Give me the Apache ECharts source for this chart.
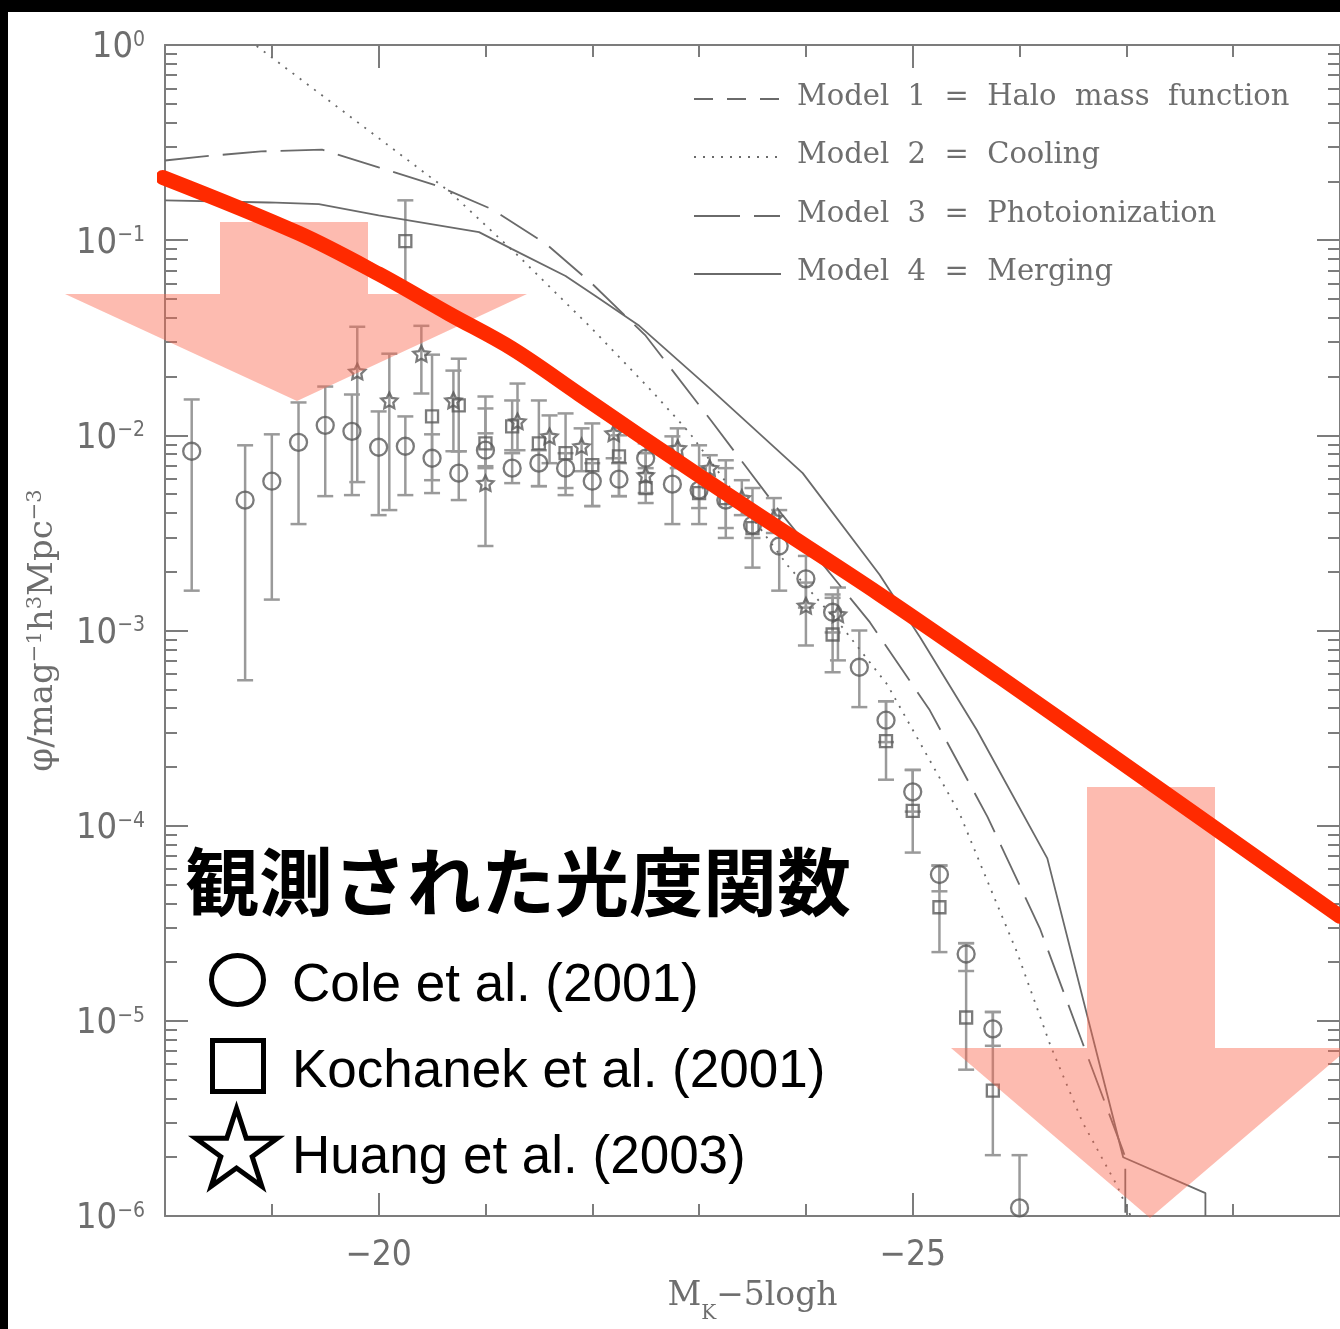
<!DOCTYPE html>
<html>
<head>
<meta charset="utf-8">
<script src="https://cdn.jsdelivr.net/npm/echarts@6/dist/echarts.min.js"></script>
<style>
  html, body { margin: 0; padding: 0; background: #fff; }
  #chart { width: 1340px; height: 1329px; }
</style>
</head>
<body>
<div id="chart"></div>
<script>
// K-band galaxy luminosity function: observed points vs. semi-analytic models

// Axis ticks
const magMajorTicks = [-20, -25];
const decadeExponents = [-6, -5, -4, -3, -2, -1, 0];
const minorLogTicks = [];
for (let n = -6; n < 0; n++) {
  for (let k = 2; k <= 9; k++) minorLogTicks.push(n + Math.log10(k));
}

// Observations: [M_K - 5logh, phi, phi_low, phi_high]
const cole2001 = [
  [-18.25, 0.00829, 0.0016, 0.01527],
  [-18.75, 0.00466, 0.000556, 0.00889],
  [-19.0, 0.00582, 0.00144, 0.01012],
  [-19.25, 0.00921, 0.00351, 0.01474],
  [-19.5, 0.01125, 0.00488, 0.01778],
  [-19.75, 0.01048, 0.00494, 0.01619],
  [-20.0, 0.00869, 0.0039, 0.01326],
  [-20.25, 0.00879, 0.00494, 0.0125],
  [-20.5, 0.00763, 0.00589, 0.01012],
  [-20.75, 0.0064, 0.00466, 0.00829],
  [-21.0, 0.00839, 0.00695, 0.01024],
  [-21.25, 0.00679, 0.00569, 0.0081],
  [-21.5, 0.0072, 0.00549, 0.00839],
  [-21.75, 0.00679, 0.00537, 0.0081],
  [-22.0, 0.00582, 0.00434, 0.0072],
  [-22.25, 0.00596, 0.00488, 0.0072],
  [-22.5, 0.00763, 0.0064, 0.0091],
  [-22.75, 0.00562, 0.00351, 0.00988],
  [-23.0, 0.00524, 0.00424, 0.00679],
  [-23.25, 0.00466, 0.00298, 0.00745],
  [-23.5, 0.00347, 0.00298, 0.004],
  [-23.75, 0.00271, 0.0016, 0.00414],
  [-24.0, 0.00184, 0.00131, 0.00241],
  [-24.25, 0.00124, 0.000977, 0.00153],
  [-24.5, 0.000648, 0.000405, 0.001],
  [-24.75, 0.000347, 0.000268, 0.000434],
  [-25.0, 0.000149, 0.000118, 0.000193],
  [-25.25, 5.62e-5, 4.61e-5, 6.25e-5],
  [-25.5, 2.2e-5, 1.8e-5, 2.5e-5],
  [-25.75, 9.1e-6, 7.45e-6, 1.11e-5],
  [-26.0, 1.1e-6, 1e-6, 2.05e-6]
];
const kochanek2001 = [
  [-20.25, 0.0988, 0.0562, 0.16],
  [-20.5, 0.0125, 0.00506, 0.0259],
  [-20.75, 0.01423, 0.00829, 0.0247],
  [-21.0, 0.0091, 0.00679, 0.01373],
  [-21.25, 0.01111, 0.00839, 0.01509],
  [-21.5, 0.0091, 0.00549, 0.01509],
  [-21.75, 0.0081, 0.00494, 0.01295],
  [-22.0, 0.00703, 0.00434, 0.01151],
  [-22.25, 0.00781, 0.00488, 0.01],
  [-22.5, 0.00537, 0.0045, 0.00679],
  [-23.0, 0.00506, 0.00351, 0.00889],
  [-23.25, 0.00477, 0.00335, 0.00679],
  [-23.5, 0.00335, 0.0021, 0.00537],
  [-24.25, 0.000954, 0.000611, 0.00147],
  [-24.75, 0.000271, 0.000172, 0.000434],
  [-25.0, 0.000119, 7.28e-5, 0.000193],
  [-25.25, 3.82e-5, 2.25e-5, 6.25e-5],
  [-25.5, 1.04e-5, 5.62e-6, 2.5e-5],
  [-25.75, 4.39e-6, 2.05e-6, 1.11e-5]
];
const huang2003 = [
  [-19.8, 0.0212, 0.00576, 0.036],
  [-20.1, 0.01509, 0.00414, 0.0262],
  [-20.4, 0.0262, 0.01638, 0.0364],
  [-20.7, 0.01509, 0.00829, 0.02146],
  [-21.0, 0.00569, 0.00271, 0.01581],
  [-21.3, 0.01179, 0.00839, 0.01842],
  [-21.6, 0.00988, 0.0072, 0.01265],
  [-21.9, 0.00879, 0.00655, 0.01086],
  [-22.2, 0.01024, 0.00763, 0.01221],
  [-22.5, 0.00625, 0.00506, 0.0081],
  [-22.8, 0.00859, 0.00679, 0.01086],
  [-23.1, 0.00679, 0.00537, 0.00791],
  [-23.4, 0.00477, 0.0039, 0.00589],
  [-23.7, 0.00377, 0.00316, 0.00477],
  [-24.0, 0.00134, 0.000838, 0.00176],
  [-24.3, 0.00121, 0.000703, 0.00166]
];

// Model predictions: [M_K - 5logh, phi]
const model2Cooling = [
  [-18.0, 2.33], [-18.87, 0.977], [-20.66, 0.178], [-21.31, 0.0828], [-22.0, 0.0351],
  [-22.56, 0.0168], [-22.91, 0.0103], [-23.83, 0.00215], [-24.34, 0.00104], [-24.76, 0.00053],
  [-25.09, 0.000253], [-25.44, 0.000115], [-25.72, 4.88e-5], [-25.98, 2.22e-5], [-26.29, 7.45e-6],
  [-26.59, 3.02e-6], [-26.91, 1.44e-6], [-27.04, 1e-6]
];
const model3Photoionization = [
  [-18.0, 0.256], [-18.34, 0.268], [-18.9, 0.285], [-19.47, 0.291], [-20.0, 0.236],
  [-20.56, 0.189], [-21.06, 0.144], [-21.57, 0.0954], [-22.0, 0.0597], [-22.5, 0.0324],
  [-23.11, 0.01194], [-23.78, 0.00391], [-24.6, 0.0011], [-25.16, 0.00039], [-25.7, 0.000111],
  [-26.19, 2.98e-5], [-26.59, 7.7e-6], [-26.96, 2.22e-6], [-26.99, 2.0e-6], [-26.99, 1e-6]
];
const model4Merging = [
  [-18.0, 0.16], [-18.97, 0.156], [-19.44, 0.153], [-20.0, 0.134], [-20.94, 0.11],
  [-21.25, 0.09], [-21.75, 0.0655], [-22.03, 0.0518], [-22.44, 0.0364], [-23.1, 0.0174],
  [-23.97, 0.0064], [-24.69, 0.00193], [-25.07, 0.00092], [-25.6, 0.000309], [-26.26, 6.8e-5],
  [-26.97, 2.0e-6], [-27.74, 1.31e-6], [-27.74, 1e-6]
];

// Hand-drawn trend line across the bright end
const trendLine = [
  [-17.98, 0.2096], [-19.25, 0.1086], [-20.0, 0.0671], [-20.66, 0.0419], [-21.25, 0.0278],
  [-21.88, 0.0162], [-22.44, 0.01], [-23.5, 0.00409], [-24.69, 0.00153], [-25.82, 0.000575],
  [-26.75, 0.000253], [-29.0, 3.43e-5]
];

// Legend texts
const modelLegend = [
  { label: 'Model  1  =  Halo  mass  function', dash: [19, 14] },
  { label: 'Model  2  =  Cooling', dash: [2, 7] },
  { label: 'Model  3  =  Photoionization', dash: [46, 14, 26, 14] },
  { label: 'Model  4  =  Merging', dash: null }
];
const obsLegend = ['Cole et al. (2001)', 'Kochanek et al. (2001)', 'Huang et al. (2003)'];
const headline = '観測された光度関数';

const GRAY_TEXT = '#6e6e6e';
const GRAY_AXIS = '#7c7c7c';
const GRAY_LINE = '#6a6a6a';
const NUM_FONT = "'Liberation Sans Narrow', 'DejaVu Sans Condensed', 'Liberation Sans', sans-serif";
const SERIF = "'DejaVu Serif', 'Liberation Serif', serif";

const chart = echarts.init(document.getElementById('chart'), null, { renderer: 'canvas' });

function errorBars(params, api) {
  const x = api.value(0);
  const lo = api.coord([x, api.value(2)]);
  const hi = api.coord([x, api.value(3)]);
  const w = 8;
  const style = { stroke: '#9a9a9a', lineWidth: 2.5 };
  return {
    type: 'group',
    children: [
      { type: 'line', shape: { x1: lo[0], y1: lo[1], x2: hi[0], y2: hi[1] }, style },
      { type: 'line', shape: { x1: lo[0] - w, y1: lo[1], x2: lo[0] + w, y2: lo[1] }, style },
      { type: 'line', shape: { x1: hi[0] - w, y1: hi[1], x2: hi[0] + w, y2: hi[1] }, style }
    ]
  };
}

function starPoints(cx, cy, R, r) {
  const pts = [];
  for (let i = 0; i < 10; i++) {
    const a = -Math.PI / 2 + i * Math.PI / 5;
    const rad = i % 2 === 0 ? R : r;
    pts.push([cx + rad * Math.cos(a), cy + rad * Math.sin(a)]);
  }
  return pts;
}
const STAR_PATH = 'path://M0,-10L2.94,-4.05L9.51,-3.09L4.76,1.55L5.88,8.09L0,5L-5.88,8.09L-4.76,1.55L-9.51,-3.09L-2.94,-4.05Z';

const supLabel = v => '{b|10}{s|' + (v === 0 ? '0' : '\u2212' + (-v)) + '}';

const xAxes = [
  // bottom, one tick per magnitude, carries axis line and name
  {
    type: 'value', position: 'bottom', inverse: true, min: -29, max: -18, interval: 1,
    axisLine: { show: true, onZero: false, lineStyle: { color: GRAY_AXIS, width: 2 } },
    axisTick: { show: true, inside: true, length: 12, lineStyle: { color: GRAY_AXIS, width: 2 } },
    axisLabel: { show: false },
    splitLine: { show: false },
    name: '{t|M}{k|K}{t|\u22125logh}',
    nameLocation: 'middle',
    nameGap: 64,
    nameTextStyle: {
      rich: {
        t: { fontFamily: SERIF, fontSize: 33, color: GRAY_TEXT, lineHeight: 34, verticalAlign: 'top' },
        k: { fontFamily: SERIF, fontSize: 20, color: GRAY_TEXT, lineHeight: 44, verticalAlign: 'bottom' }
      }
    }
  },
  // bottom, labelled major ticks
  {
    type: 'value', position: 'bottom', inverse: true, min: -29, max: -18,
    axisLine: { show: false, onZero: false },
    axisTick: { show: true, inside: true, length: 23, customValues: magMajorTicks, lineStyle: { color: GRAY_AXIS, width: 2 } },
    axisLabel: {
      show: true, customValues: magMajorTicks, margin: 22,
      formatter: v => '\u2212' + Math.abs(v),
      fontFamily: NUM_FONT, fontSize: 35, color: GRAY_TEXT
    },
    splitLine: { show: false }
  },
  // top frame
  {
    type: 'value', position: 'top', inverse: true, min: -29, max: -18, interval: 1,
    axisLine: { show: true, onZero: false, lineStyle: { color: GRAY_AXIS, width: 2 } },
    axisTick: { show: true, inside: true, length: 12, lineStyle: { color: GRAY_AXIS, width: 2 } },
    axisLabel: { show: false },
    splitLine: { show: false }
  },
  {
    type: 'value', position: 'top', inverse: true, min: -29, max: -18,
    axisLine: { show: false, onZero: false },
    axisTick: { show: true, inside: true, length: 23, customValues: magMajorTicks, lineStyle: { color: GRAY_AXIS, width: 2 } },
    axisLabel: { show: false },
    splitLine: { show: false }
  }
];

function tickAxis(position, major, withLabels) {
  return {
    type: 'value', position, min: -6, max: 0,
    interval: major ? 1 : undefined,
    axisLine: { show: false, onZero: false },
    axisTick: major
      ? { show: true, inside: true, length: 23, customValues: decadeExponents, lineStyle: { color: GRAY_AXIS, width: 2 } }
      : { show: true, inside: true, length: 12, customValues: minorLogTicks, lineStyle: { color: GRAY_AXIS, width: 2 } },
    axisLabel: withLabels ? {
      show: true, margin: 20, formatter: supLabel, customValues: decadeExponents,
      padding: [6, 0, 0, 0],
      rich: {
        b: { fontFamily: NUM_FONT, fontSize: 36, color: GRAY_TEXT, lineHeight: 36 },
        s: { fontFamily: NUM_FONT, fontSize: 21, color: GRAY_TEXT, lineHeight: 21, verticalAlign: 'top' }
      }
    } : { show: false },
    splitLine: { show: false }
  };
}

const yAxes = [
  {
    type: 'log', logBase: 10, min: 1e-6, max: 1, position: 'left',
    axisLine: { show: true, onZero: false, lineStyle: { color: GRAY_AXIS, width: 2 } },
    axisTick: { show: false }, axisLabel: { show: false }, splitLine: { show: false }, minorTick: { show: false },
    name: '{t|\u03c6/mag}{s|\u22121}{t|h}{s|3}{t|Mpc}{s|\u22123}',
    nameLocation: 'middle',
    nameGap: 104,
    nameTextStyle: {
      rich: {
        t: { fontFamily: SERIF, fontSize: 34, color: GRAY_TEXT, lineHeight: 36 },
        s: { fontFamily: SERIF, fontSize: 21, color: GRAY_TEXT, lineHeight: 21, verticalAlign: 'top' }
      }
    }
  },
  tickAxis('left', true, true),
  tickAxis('left', false, false),
  {
    type: 'log', logBase: 10, min: 1e-6, max: 1, position: 'right',
    axisLine: { show: true, onZero: false, lineStyle: { color: GRAY_AXIS, width: 2 } },
    axisTick: { show: false }, axisLabel: { show: false }, splitLine: { show: false }, minorTick: { show: false }
  },
  tickAxis('right', true, false),
  tickAxis('right', false, false)
];

function modelSeries(name, data, dash) {
  return {
    name, type: 'line', data, xAxisIndex: 0, yAxisIndex: 0,
    showSymbol: false, symbol: 'none', z: 2,
    lineStyle: { color: GRAY_LINE, width: 1.8, type: dash || 'solid' },
    emphasis: { disabled: true }
  };
}

function barSeries(name, data) {
  return {
    name: name + ' errors', type: 'custom', data, xAxisIndex: 0, yAxisIndex: 0,
    renderItem: errorBars, encode: { x: 0, y: [1, 2, 3] }, z: 1, clip: true
  };
}

function markerSeries(name, data, symbol, size) {
  return {
    name, type: 'scatter', data: data.map(d => [d[0], d[1]]), xAxisIndex: 0, yAxisIndex: 0,
    symbol, symbolSize: size, symbolKeepAspect: true, z: 2,
    itemStyle: { color: 'rgba(0,0,0,0)', borderColor: '#5a5a5a', borderWidth: 2.3 },
    emphasis: { disabled: true }
  };
}

// Annotation layer: arrows, headline and marker key
const PINK = 'rgba(250,105,80,0.45)';
const graphics = [
  { type: 'polygon', z: 3, silent: true,
    shape: { points: [[220, 222], [368, 222], [368, 294], [527, 294], [297, 401], [65, 294], [220, 294]] },
    style: { fill: PINK } },
  { type: 'polygon', z: 3, silent: true,
    shape: { points: [[1087, 787], [1215, 787], [1215, 1048], [1349, 1048], [1150, 1218], [951, 1048], [1087, 1048]] },
    style: { fill: PINK } },
  { type: 'text', z: 10, x: 185, y: 882,
    style: { text: headline, fill: '#000', font: "bold 74px 'Noto Sans CJK JP', sans-serif", verticalAlign: 'middle', align: 'left' } },
  { type: 'ellipse', z: 10, shape: { cx: 237.5, cy: 980, rx: 26, ry: 24.5 },
    style: { fill: 'none', stroke: '#000', lineWidth: 5 } },
  { type: 'rect', z: 10, shape: { x: 212.5, y: 1040.5, width: 51, height: 51 },
    style: { fill: 'none', stroke: '#000', lineWidth: 5 } },
  { type: 'polygon', z: 10, shape: { points: starPoints(236.5, 1151.5, 43, 16.5) },
    style: { fill: 'none', stroke: '#000', lineWidth: 5, lineJoin: 'miter' } },
  // page frame
  { type: 'rect', z: 20, shape: { x: 0, y: 0, width: 1340, height: 12 }, style: { fill: '#000' } },
  { type: 'rect', z: 20, shape: { x: 0, y: 0, width: 8, height: 1329 }, style: { fill: '#000' } }
];
const obsY = [986, 1072, 1158];
obsLegend.forEach((t, i) => {
  graphics.push({ type: 'text', z: 10, x: 292, y: obsY[i],
    style: { text: t, fill: '#000', font: "53px 'Liberation Sans', 'Helvetica', sans-serif", verticalAlign: 'middle', align: 'left' } });
});
const modelY = [97, 155, 214, 272];
modelLegend.forEach((m, i) => {
  graphics.push({ type: 'line', z: 4, shape: { x1: 694, y1: modelY[i] + 2, x2: 781, y2: modelY[i] + 2 },
    style: { stroke: GRAY_LINE, lineWidth: 2, lineDash: m.dash || null } });
  graphics.push({ type: 'text', z: 4, x: 797, y: modelY[i],
    style: { text: m.label, fill: GRAY_TEXT, font: "29px 'DejaVu Serif', serif", verticalAlign: 'middle', align: 'left' } });
});

chart.setOption({
  animation: false,
  backgroundColor: '#fff',
  grid: { left: 165, right: 0, top: 45, bottom: 108, containLabel: false },
  xAxis: xAxes,
  yAxis: yAxes,
  series: [
    modelSeries('Model 2 = Cooling', model2Cooling, [2, 7]),
    modelSeries('Model 3 = Photoionization', model3Photoionization, [44, 14]),
    modelSeries('Model 4 = Merging', model4Merging, null),
    barSeries('Cole et al. (2001)', cole2001),
    barSeries('Kochanek et al. (2001)', kochanek2001),
    barSeries('Huang et al. (2003)', huang2003),
    markerSeries('Cole et al. (2001)', cole2001, 'circle', 17),
    markerSeries('Kochanek et al. (2001)', kochanek2001, 'rect', 12),
    markerSeries('Huang et al. (2003)', huang2003, STAR_PATH, 16),
    {
      name: 'trend', type: 'line', data: trendLine, xAxisIndex: 0, yAxisIndex: 0,
      smooth: 0.35, showSymbol: false, symbol: 'none', z: 6, clip: false,
      lineStyle: { color: '#ff2a00', width: 15, cap: 'round', join: 'round' },
      emphasis: { disabled: true }
    }
  ],
  graphic: graphics
});
</script>
</body>
</html>
